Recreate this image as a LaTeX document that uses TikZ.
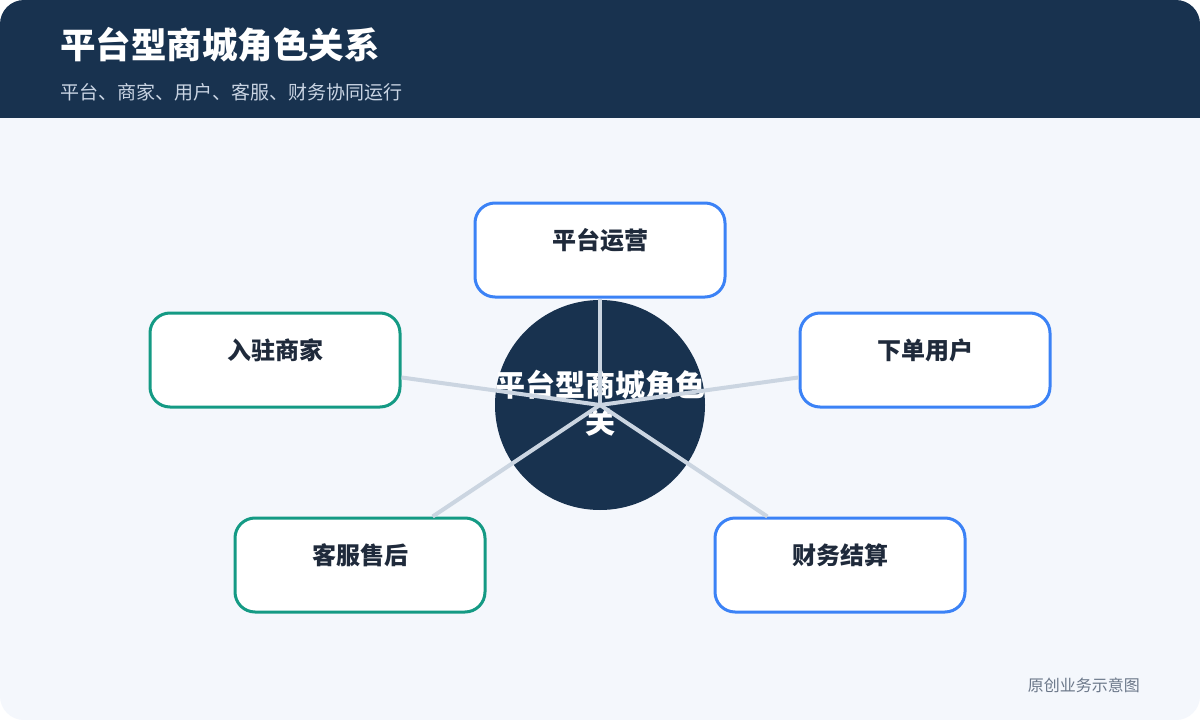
\documentclass[tikz,border=0pt]{standalone}
\usepackage{fontspec}
\setmainfont{Noto Sans CJK SC}
\usetikzlibrary{positioning}
\definecolor{navy}{HTML}{18324F}
\definecolor{paper}{HTML}{F4F7FC}
\definecolor{spoke}{HTML}{CBD5E1}
\definecolor{roleblue}{HTML}{3B82F6}
\definecolor{roleteal}{HTML}{149A84}
\definecolor{ink}{HTML}{1F2A3B}
\definecolor{subtle}{HTML}{C9D4E3}
\definecolor{note}{HTML}{6B7789}
\tikzset{role/.style={draw,fill=white,line width=3pt,rounded corners=20pt,minimum width=250pt,minimum height=94pt,inner sep=0pt},
         roletext/.style={text=ink,font=\fontsize{24}{28}\selectfont\bfseries,yshift=10pt},
         hub/.style={circle,fill=navy,minimum size=210pt,inner sep=0pt},
         link/.style={draw=spoke,line width=4pt},
        }

\begin{document}
\begin{tikzpicture}[x=1pt,y=-1pt]
        \fill[white](0,0)rectangle(1200,720);
        \fill[paper,rounded corners=24pt](0,0)rectangle(1200,720);
        \begin{scope}
        \clip[rounded corners=24pt](0,0)rectangle(1200,720);
        \fill[navy](0,0)rectangle(1200,118);
        \end{scope}
        \node[anchor=west,text=white,font=\fontsize{35.5}{42}\selectfont\bfseries,inner sep=0pt](title)at(60,45){平台型商城角色关系};
        \node[anchor=west,text=subtle,font=\fontsize{19}{22}\selectfont,inner sep=0pt](sub)at(60,92){平台、商家、用户、客服、财务协同运行};
        \node[anchor=east,text=note,font=\fontsize{16}{19}\selectfont,inner sep=0pt](foot)at(1140,685){原创业务示意图};

        \node[hub](core)at(600,405){};
        \node[text=white,font=\fontsize{30}{37}\selectfont\bfseries,align=center](coretext)at(600,403){平台型商城角色\\关};

        \node[role,draw=roleblue,label={[roletext]center:平台运营}](ops)at(600,250){};
        \node[role,draw=roleteal,label={[roletext]center:入驻商家}](seller)at(275,360){};
        \node[role,draw=roleblue,label={[roletext]center:下单用户}](buyer)at(925,360){};
        \node[role,draw=roleteal,label={[roletext]center:客服售后}](service)at(360,565){};
        \node[role,draw=roleblue,label={[roletext]center:财务结算}](finance)at(840,565){};

        \draw[link](core.center)--(ops);
        \draw[link](core.center)--(seller);
        \draw[link](core.center)--(buyer);
        \draw[link](core.center)--(service);
        \draw[link](core.center)--(finance);
    \end{tikzpicture}
\end{document}
